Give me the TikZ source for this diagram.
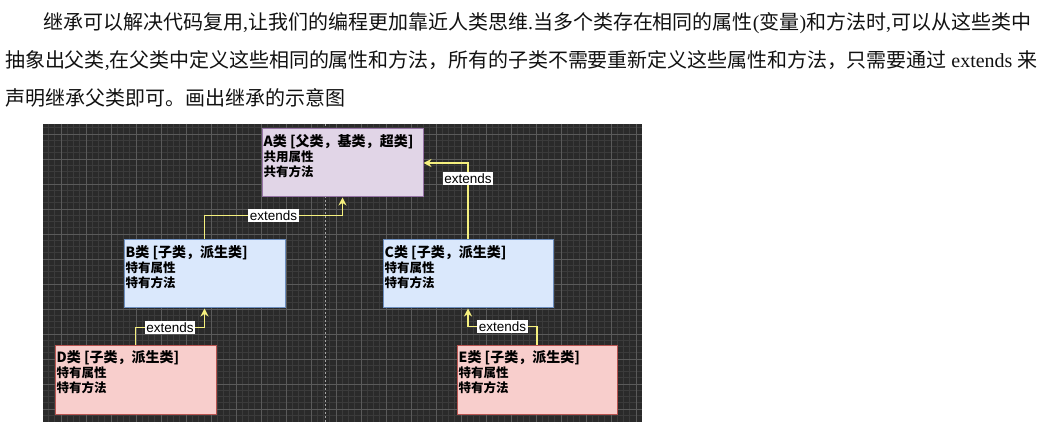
\documentclass[tikz,border=0pt]{standalone}
\usepackage{fontspec}
\setmainfont{Liberation Serif}
\newfontfamily\cjk{Noto Sans CJK SC}
\newfontfamily\arialf{Liberation Sans}
\usetikzlibrary{arrows.meta}
\definecolor{bgdark}{HTML}{2A2A2A}
\definecolor{gminor}{HTML}{3B3B3B}
\definecolor{gmajor}{HTML}{5A5A5A}
\definecolor{afill}{HTML}{E1D5E7}
\definecolor{aline}{HTML}{9673A6}
\definecolor{bfill}{HTML}{DAE8FC}
\definecolor{bline}{HTML}{6C8EBF}
\definecolor{dfill}{HTML}{F8CECC}
\definecolor{dline}{HTML}{B85450}
\definecolor{conncol}{HTML}{F5F07E}
\definecolor{txt}{HTML}{111111}
\newcommand{\lp}[1]{{\rmfamily #1}}
\tikzset{
  classbox/.style={rectangle, draw, line width=1pt, inner sep=0pt},
  boxtext/.style={anchor=base west, inner sep=0pt, text=black},
  conn/.style={draw=conncol, line width=1.8pt, -{Stealth[length=8pt,width=8pt]}},
  lbl/.style={fill=white, text=black, inner sep=1.5pt, font=\arialf\fontsize{13.5}{14}\selectfont},
  paraline/.style={anchor=base west, inner sep=0pt, text=txt}
}
\newcommand{\boxcontent}[2]{\parbox[t]{160pt}{\raggedright\cjk\bfseries\fontsize{14}{15}\selectfont #1\\\fontsize{12.5}{15}\selectfont #2}}
\newcommand{\justline}[2]{\parbox[b]{#1}{\parindent=0pt\parfillskip=0pt\XeTeXlinebreaklocale "zh"\XeTeXlinebreakskip=0pt plus 6pt minus 0.5pt\cjk\fontsize{20}{24}\selectfont #2}}
\begin{document}
\begin{tikzpicture}[x=1pt,y=-1pt]
\useasboundingbox (0,0) rectangle (1046,427);
% dark grid background
\fill[bgdark] (43,124) rectangle (642,422);
\begin{scope}
\clip (43,124) rectangle (642,422);
\foreach \x in {48.5,54.75,...,641} \draw[gminor, line width=0.6pt] (\x,124) -- (\x,422);
\foreach \y in {127.75,134,...,421} \draw[gminor, line width=0.6pt] (43,\y) -- (642,\y);
\foreach \x in {61,86,...,640} \draw[gmajor, line width=0.8pt] (\x,124) -- (\x,422);
\foreach \y in {134,159,...,421} \draw[gmajor, line width=0.8pt] (43,\y) -- (642,\y);
\draw[gray!70, line width=0.8pt, dash pattern=on 2pt off 2pt] (325,124) -- (325,422);
\end{scope}
% paragraph
\node[paraline] (p1) at (43,30) {\justline{988pt}{继承可以解决代码复用\lp{,}让我们的编程更加靠近人类思维\lp{.}当多个类存在相同的属性\lp{(}变量\lp{)}和方法时\lp{,}可以从这些类中}};
\node[paraline] (p2) at (5,68) {\justline{1032pt}{抽象出父类\lp{,}在父类中定义这些相同的属性和方法，所有的子类不需要重新定义这些属性和方法，只需要通过\lp{ extends }来}};
\node[paraline] (p3) at (5,106) {\cjk\fontsize{20}{24}\selectfont 声明继承父类即可。画出继承的示意图};
% class boxes
\node[classbox, fill=afill, draw=aline, minimum width=161, minimum height=68] (A) at (342.5,163) {};
\node[classbox, fill=bfill, draw=bline, minimum width=161, minimum height=68] (B) at (204.5,274) {};
\node[classbox, fill=bfill, draw=bline, minimum width=170, minimum height=68] (C) at (468,274) {};
\node[classbox, fill=dfill, draw=dline, minimum width=161, minimum height=69] (D) at (135.5,379.5) {};
\node[classbox, fill=dfill, draw=dline, minimum width=160, minimum height=69] (E) at (537,379.5) {};
\node[boxtext] (At) at ([xshift=2pt,yshift=-18.3pt]A.north west) {\boxcontent{A类 [父类，基类，超类]}{共用属性\\共有方法}};
\node[boxtext] (Bt) at ([xshift=2pt,yshift=-18.3pt]B.north west) {\boxcontent{B类 [子类，派生类]}{特有属性\\特有方法}};
\node[boxtext] (Ct) at ([xshift=2pt,yshift=-18.3pt]C.north west) {\boxcontent{C类 [子类，派生类]}{特有属性\\特有方法}};
\node[boxtext] (Dt) at ([xshift=2pt,yshift=-18.3pt]D.north west) {\boxcontent{D类 [子类，派生类]}{特有属性\\特有方法}};
\node[boxtext] (Et) at ([xshift=2pt,yshift=-18.3pt]E.north west) {\boxcontent{E类 [子类，派生类]}{特有属性\\特有方法}};
% connectors
\draw[conn] (B.north) -- ++(0,-24) -| node[lbl, pos=0.25] (l1) {extends} (A.south);
\draw[conn] (C.north) |- node[lbl, pos=0.4] (l2) {extends} (A.east);
\draw[conn] (D.north) -- ++(0,-17) -| node[lbl, pos=0.25] (l3) {extends} (B.south);
\draw[conn] (E.north) -- ++(0,-18) -| node[lbl, pos=0.25] (l4) {extends} (C.south);
\end{tikzpicture}
\end{document}
